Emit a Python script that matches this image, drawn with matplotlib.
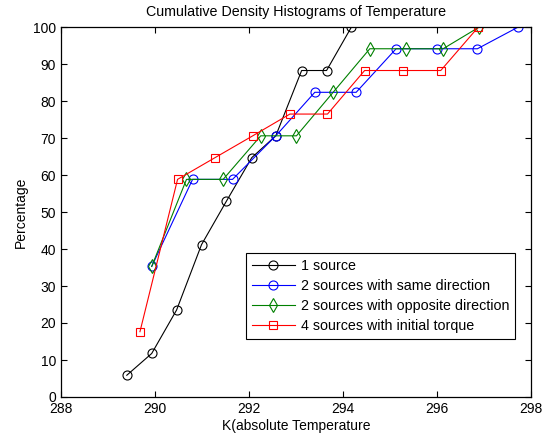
import matplotlib
matplotlib.use('agg')
import matplotlib.pyplot as plt

plt.rcParams['font.family'] = ['Liberation Sans', 'DejaVu Sans']

# cumulative percentages (steps of 1/17)
x_one = [289.40, 289.93, 290.46, 290.99, 291.52, 292.06, 292.57, 293.12, 293.65, 294.18]
y_one = [5.88, 11.76, 23.53, 41.18, 52.94, 64.71, 70.59, 88.24, 88.24, 100.0]

x_same = [289.93, 290.80, 291.65, 292.57, 293.40, 294.28, 295.13, 295.99, 296.86, 297.73]
y_same = [35.29, 58.82, 58.82, 70.59, 82.35, 82.35, 94.12, 94.12, 94.12, 100.0]

x_opp = [289.93, 290.67, 291.45, 292.25, 293.01, 293.79, 294.57, 295.35, 296.13, 296.90]
y_opp = [35.29, 58.82, 58.82, 70.59, 70.59, 82.35, 94.12, 94.12, 94.12, 100.0]

x_torque = [289.68, 290.48, 291.28, 292.08, 292.87, 293.67, 294.46, 295.28, 296.08, 296.88]
y_torque = [17.65, 58.82, 64.71, 70.59, 76.47, 76.47, 88.24, 88.24, 88.24, 100.0]

labels = ['1 source', '2 sources with same direction',
          '2 sources with opposite direction', '4 sources with initial torque']

fig = plt.figure(figsize=(5.43, 4.41), dpi=100)
ax = fig.add_axes([61 / 543, 44 / 441, 470 / 543, 370 / 441])

style = dict(linewidth=0.8, markerfacecolor='none', markeredgewidth=0.8)
ax.plot(x_one, y_one, '-o', color='black', markersize=6.5, label=labels[0], **style)
ax.plot(x_same, y_same, '-o', color='blue', markersize=6.5, label=labels[1], **style)
ax.plot(x_opp, y_opp, '-d', color='green', markersize=7.5, label=labels[2], **style)
ax.plot(x_torque, y_torque, '-s', color='red', markersize=6, label=labels[3], **style)

ax.set_xlim(288, 298)
ax.set_ylim(0, 100)
ax.set_xticks(range(288, 299, 2))
ax.set_yticks(range(0, 101, 10))
ax.tick_params(direction='in', top=True, right=True, length=4, width=0.8, labelsize=10)
for s in ax.spines.values():
    s.set_linewidth(0.9)

ax.set_title('Cumulative Density Histograms of Temperature', fontsize=10.3, pad=8)
ax.set_xlabel('K(absolute Temperature', fontsize=10, labelpad=2)
ax.set_ylabel('Percentage', fontsize=10)

leg = ax.legend(loc='lower right', bbox_to_anchor=(0.966, 0.157), borderaxespad=0,
                fontsize=10.3, fancybox=False, edgecolor='black', framealpha=1,
                handlelength=3.0, handletextpad=0.4, labelspacing=0.42, borderpad=0.42)
leg.get_frame().set_linewidth(0.8)

fig.savefig('out.png', dpi=100)
